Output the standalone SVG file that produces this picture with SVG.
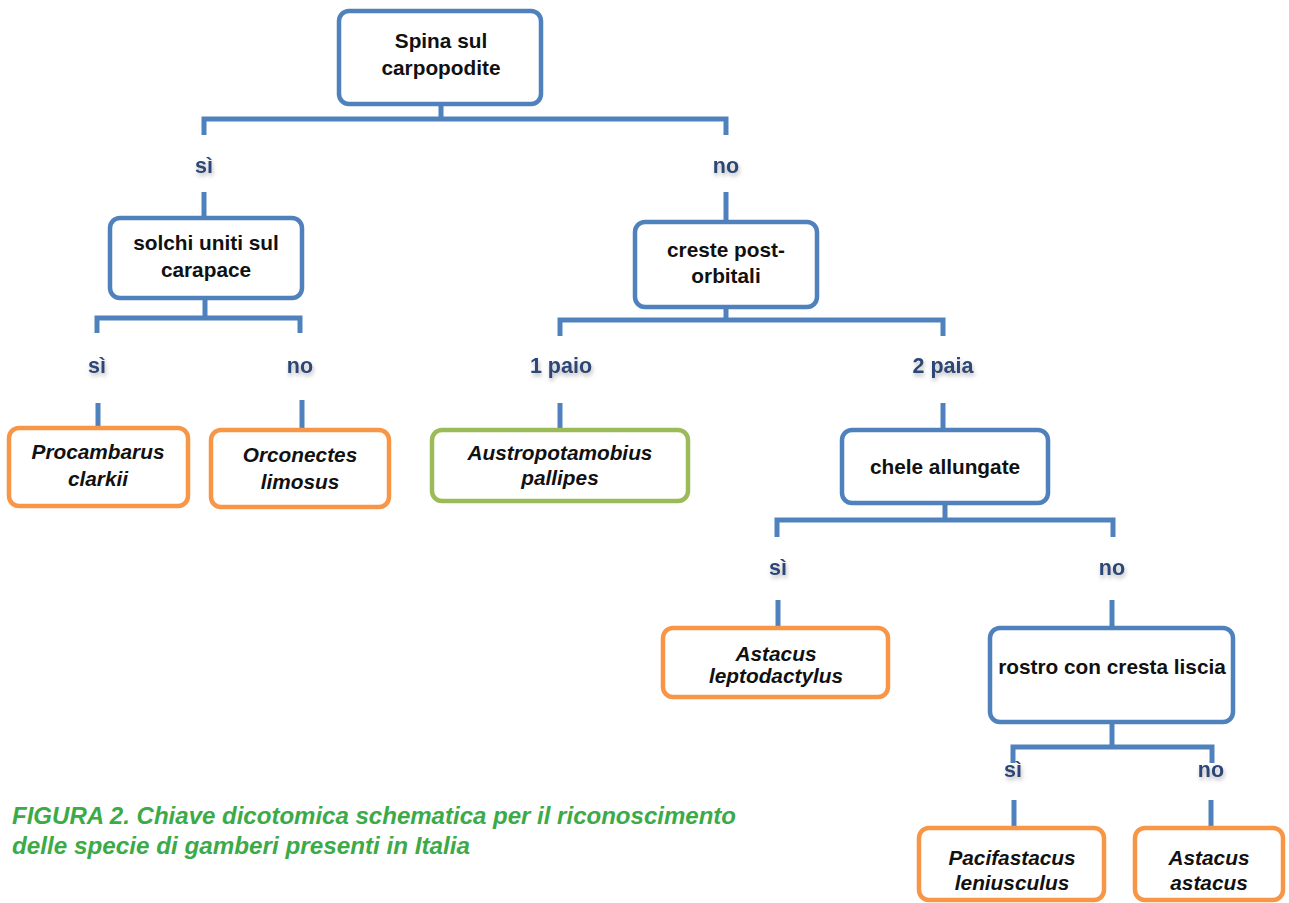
<svg xmlns="http://www.w3.org/2000/svg" width="1289" height="903" viewBox="0 0 1289 903">
<style>
.box{fill:#fff;stroke-width:4.5}
.q{stroke:#4f81bd}
.sp{stroke:#f79646}
.gr{stroke:#9bbb59}
.t{font-family:"Liberation Sans",Arial,sans-serif;font-weight:bold;font-size:20.8px;fill:#111;text-anchor:middle}
.it{font-style:italic}
.lb{font-family:"Liberation Sans",Arial,sans-serif;font-weight:bold;font-size:21.5px;fill:#2a4778;text-anchor:middle;filter:url(#sh)}
.c{fill:none;stroke:#4f81bd;stroke-width:5;stroke-linecap:butt}
.cap{font-family:"Liberation Sans",Arial,sans-serif;font-weight:bold;font-style:italic;font-size:23px;fill:#3daa48}
</style>
<defs>
<filter id="sh" x="-30%" y="-30%" width="160%" height="180%">
<feDropShadow dx="1" dy="3" stdDeviation="2" flood-color="#8a8a8a" flood-opacity="0.6"/>
</filter>
</defs>
<rect width="1289" height="903" fill="#fff"/>
<g id="connectors">
<path class="c" d="M441 105V119M204 135V119H726V135"/>
<path class="c" d="M204 192V218M726 192V222"/>
<path class="c" d="M205 298V318M97 333V318H300V333"/>
<path class="c" d="M98 403V428M302 400V430"/>
<path class="c" d="M726 307V320M560 336V320H943V336"/>
<path class="c" d="M560 403V430M943 403V430"/>
<path class="c" d="M945 503V520M777 537V520H1113V537"/>
<path class="c" d="M778 600V628M1112 600V628"/>
<path class="c" d="M1112 722V747M1013 763V747H1212V763"/>
<path class="c" d="M1014 800V828M1211 800V828"/>
</g>
<g id="labels">
<text class="lb" x="204" y="173">sì</text>
<text class="lb" x="726" y="173">no</text>
<text class="lb" x="97" y="373">sì</text>
<text class="lb" x="300" y="373">no</text>
<text class="lb" x="561" y="373">1 paio</text>
<text class="lb" x="943" y="373">2 paia</text>
<text class="lb" x="778" y="575">sì</text>
<text class="lb" x="1112" y="575">no</text>
<text class="lb" x="1013" y="777">sì</text>
<text class="lb" x="1211" y="777">no</text>
</g>
<g id="n-root">
<rect class="box q" x="339" y="11" width="202" height="93" rx="10"/>
<text class="t" x="441" y="48"><tspan x="441">Spina sul</tspan><tspan x="441" dy="27">carpopodite</tspan></text>
</g>
<g id="n-solchi">
<rect class="box q" x="110" y="218" width="192" height="80" rx="10"/>
<text class="t" x="206" y="250"><tspan x="206">solchi uniti sul</tspan><tspan x="206" dy="27">carapace</tspan></text>
</g>
<g id="n-creste">
<rect class="box q" x="635" y="222" width="182" height="85" rx="10"/>
<text class="t" x="726" y="257"><tspan x="726">creste post-</tspan><tspan x="726" dy="26">orbitali</tspan></text>
</g>
<g id="n-procambarus">
<rect class="box sp" x="9" y="428" width="179" height="78" rx="10"/>
<text class="t it" x="98" y="459"><tspan x="98">Procambarus</tspan><tspan x="98" dy="27">clarkii</tspan></text>
</g>
<g id="n-orconectes">
<rect class="box sp" x="211" y="430" width="178" height="77" rx="10"/>
<text class="t it" x="300" y="462"><tspan x="300">Orconectes</tspan><tspan x="300" dy="27">limosus</tspan></text>
</g>
<g id="n-austro">
<rect class="box gr" x="432" y="430" width="256" height="71" rx="10"/>
<text class="t it" x="560" y="460"><tspan x="560">Austropotamobius</tspan><tspan x="560" dy="25">pallipes</tspan></text>
</g>
<g id="n-chele">
<rect class="box q" x="842" y="430" width="206" height="73" rx="10"/>
<text class="t" x="945" y="474">chele allungate</text>
</g>
<g id="n-leptodactylus">
<rect class="box sp" x="663" y="628" width="225" height="69" rx="10"/>
<text class="t it" x="776" y="661"><tspan x="776">Astacus</tspan><tspan x="776" dy="22">leptodactylus</tspan></text>
</g>
<g id="n-rostro">
<rect class="box q" x="990" y="628" width="243" height="94" rx="10"/>
<text class="t" x="1112" y="674">rostro con cresta liscia</text>
</g>
<g id="n-pacifastacus">
<rect class="box sp" x="919" y="828" width="185" height="72" rx="10"/>
<text class="t it" x="1012" y="865"><tspan x="1012">Pacifastacus</tspan><tspan x="1012" dy="25">leniusculus</tspan></text>
</g>
<g id="n-astacus">
<rect class="box sp" x="1135" y="828" width="148" height="72" rx="10"/>
<text class="t it" x="1209" y="865"><tspan x="1209">Astacus</tspan><tspan x="1209" dy="25">astacus</tspan></text>
</g>
<g id="caption">
<text class="cap" x="12" y="824" textLength="724" lengthAdjust="spacingAndGlyphs">FIGURA 2. Chiave dicotomica schematica per il riconoscimento</text>
<text class="cap" x="12" y="854" textLength="458" lengthAdjust="spacingAndGlyphs">delle specie di gamberi presenti in Italia</text>
</g>
</svg>
